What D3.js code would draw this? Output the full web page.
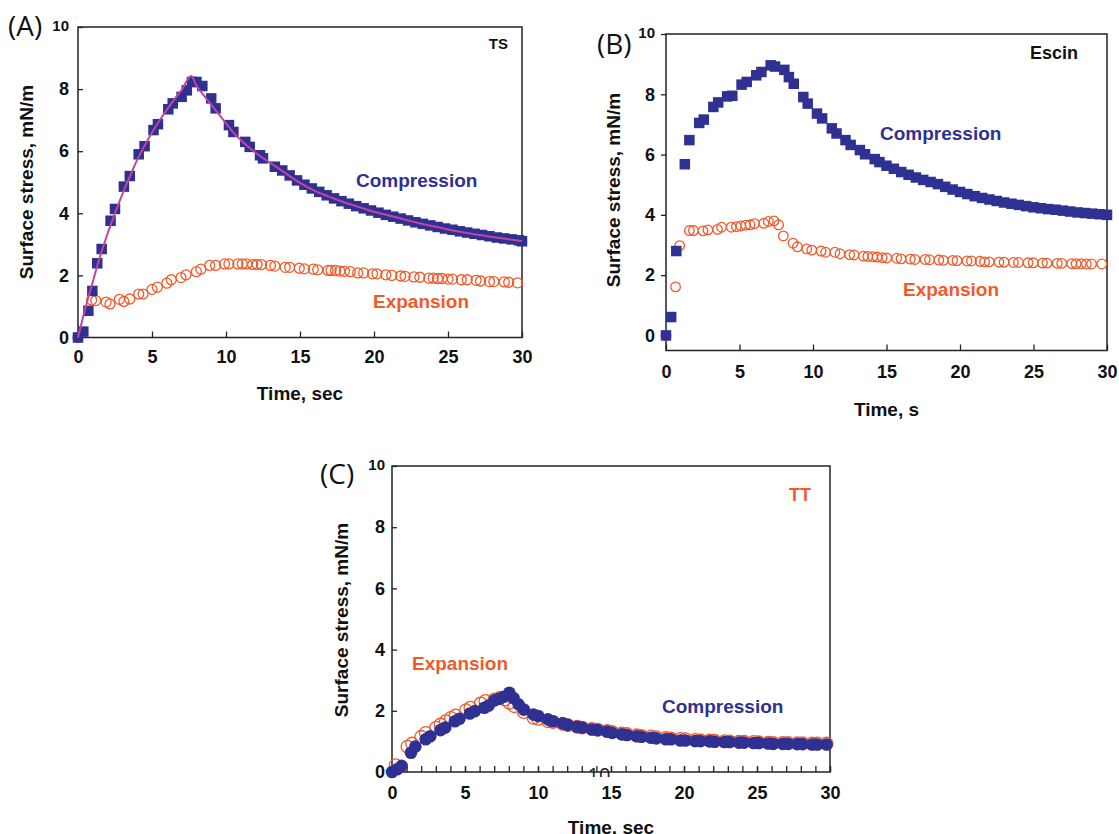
<!DOCTYPE html>
<html>
<head>
<meta charset="utf-8">
<script src="https://cdn.jsdelivr.net/npm/d3@7/dist/d3.min.js"></script>
<style>
  body { margin: 0; background: #fff; }
  svg { display: block; font-family: "Liberation Sans", Arial, sans-serif; }
  .axis text { font-weight: bold; font-size: 18px; fill: #111; }
  .axis line { stroke: #222; stroke-width: 1.3; }
  .axis path { display: none; }
  .title { font-weight: bold; font-size: 19px; fill: #111; }
  .note { font-weight: bold; font-size: 19px; }
  .tag { font-family: "Open Sans", sans-serif; font-size: 28px; fill: #111; }
</style>
</head>
<body>
<div id="chart"></div>
<script>
var xTicks = [0, 5, 10, 15, 20, 25, 30];
var yTicks = [0, 2, 4, 6, 8, 10];

// (A) TS  [time s, stress mN/m]
var tsCompression = [[0,0],[0.36,0.19],[0.7,0.86],[0.97,1.5],[1.3,2.39],[1.6,2.85],[2.2,3.76],[2.5,4.14],
  [3.1,4.86],[3.5,5.2],[4.1,5.9],[4.5,6.16],[5.1,6.68],[5.4,6.87],[6.1,7.35],[6.4,7.54],[7.0,7.75],[7.35,7.96],
  [7.7,8.23],[8.0,8.23],[8.4,8.1],[9.0,7.7],[9.3,7.38],[10.2,6.84],[10.5,6.62],[11.3,6.3],[11.6,6.14],[12.3,5.87],
  [12.5,5.77],[13.3,5.5],[13.8,5.38],[14.3,5.22],[14.8,5.06],[15.3,4.92],[15.8,4.8],[16.3,4.69],[16.8,4.58],
  [17.3,4.48],[17.8,4.39],[18.3,4.31],[18.8,4.23],[19.3,4.16],[19.8,4.09],[20.3,4.02],[20.8,3.95],[21.3,3.89],
  [21.8,3.83],[22.3,3.77],[22.8,3.71],[23.3,3.66],[23.8,3.61],[24.3,3.56],[24.8,3.51],[25.3,3.47],[25.8,3.42],
  [26.3,3.38],[26.8,3.34],[27.3,3.3],[27.8,3.26],[28.3,3.22],[28.8,3.19],[29.3,3.16],[29.8,3.13],[30,3.1]];
var tsExpansion = [[0,0],[0.92,1.21],[1.2,1.19],[1.9,1.14],[2.16,1.08],[2.8,1.23],[3.1,1.16],[3.5,1.24],[4.1,1.4],
  [4.4,1.4],[5.0,1.55],[5.36,1.62],[6.0,1.75],[6.3,1.86],[6.96,1.93],[7.3,2.02],[8.0,2.12],[8.3,2.2],[8.9,2.32],
  [9.3,2.32],[9.9,2.37],[10.2,2.37],[10.8,2.37],[11.1,2.37],[11.4,2.37],[11.8,2.35],[12.1,2.35],[12.4,2.35],
  [13.0,2.32],[13.3,2.3],[14.0,2.26],[14.3,2.26],[14.95,2.23],[15.3,2.21],[15.9,2.2],[16.2,2.18],[16.9,2.16],
  [17.1,2.16],[17.4,2.16],[17.7,2.14],[18.0,2.13],[18.4,2.12],[18.9,2.08],[19.3,2.08],[19.9,2.05],[20.2,2.05],
  [20.8,2.02],[21.2,2.0],[21.8,1.98],[22.1,1.97],[22.7,1.95],[23.1,1.94],[23.7,1.91],[24.0,1.91],[24.3,1.9],
  [24.6,1.9],[25.0,1.88],[25.3,1.88],[25.9,1.86],[26.3,1.86],[26.9,1.84],[27.2,1.82],[27.8,1.8],[28.1,1.8],
  [28.8,1.79],[29.1,1.78],[29.7,1.76]];
var tsFit = [[0,0],[0.5,0.95],[1,1.8],[1.5,2.62],[2,3.35],[2.5,4.0],[3,4.62],[3.5,5.18],[4,5.72],[4.5,6.18],
  [5,6.6],[5.5,6.98],[6,7.33],[6.5,7.66],[7,7.97],[7.65,8.42],[8,8.12],[8.5,7.8],[9,7.5],[9.5,7.2],[10,6.9],
  [10.5,6.6],[11,6.36],[11.5,6.14],[12,5.95],[13,5.62],[14,5.3],[15,4.98],[16,4.72],[17,4.53],[18,4.35],
  [19,4.2],[20,4.05],[21,3.93],[22,3.81],[23,3.69],[24,3.58],[25,3.48],[26,3.39],[27,3.31],[28,3.24],
  [29,3.17],[30,3.11]];

// (B) Escin
var escinCompression = [[0,0],[0.35,0.61],[0.7,2.8],[1.28,5.68],[1.59,6.48],[2.26,7.05],[2.57,7.16],[3.22,7.58],
  [3.55,7.73],[4.16,7.93],[4.51,7.95],[5.14,8.32],[5.49,8.41],[6.14,8.63],[6.49,8.74],[7.12,8.96],[7.42,8.92],
  [8.05,8.81],[8.36,8.57],[8.69,8.35],[9.34,7.91],[9.64,7.69],[10.27,7.36],[10.62,7.2],[11.28,6.87],[11.6,6.7],
  [12.21,6.48],[12.56,6.32],[13.19,6.15],[13.54,6.01],[14.2,5.85],[14.52,5.75],[15.0,5.63],[15.5,5.53],
  [16.0,5.42],[16.5,5.33],[17.0,5.24],[17.5,5.16],[18.0,5.09],[18.5,5.02],[19.0,4.93],[19.5,4.84],[20.0,4.76],
  [20.5,4.69],[21.0,4.62],[21.5,4.56],[22.0,4.51],[22.5,4.46],[23.0,4.41],[23.5,4.37],[24.0,4.33],[24.5,4.29],
  [25.0,4.25],[25.5,4.22],[26.0,4.19],[26.5,4.17],[27.0,4.14],[27.5,4.11],[28.0,4.08],[28.5,4.06],[29.0,4.04],
  [29.5,4.02],[30.0,4.0]];
var escinExpansion = [[0,0],[0.65,1.61],[0.93,2.98],[1.59,3.48],[1.87,3.48],[2.52,3.47],[2.85,3.5],[3.5,3.52],
  [3.78,3.59],[4.44,3.59],[4.79,3.61],[5.09,3.63],[5.42,3.66],[5.72,3.67],[6.02,3.71],[6.65,3.72],[6.96,3.78],
  [7.35,3.8],[7.66,3.67],[7.98,3.3],[8.64,3.06],[8.94,2.94],[9.57,2.87],[9.92,2.83],[10.55,2.8],[10.86,2.76],
  [11.49,2.76],[11.84,2.71],[12.49,2.68],[12.79,2.67],[13.43,2.63],[13.73,2.62],[14.06,2.61],[14.36,2.6],
  [14.71,2.58],[15.01,2.57],[15.69,2.56],[15.99,2.54],[16.62,2.53],[16.93,2.52],[17.63,2.52],[17.93,2.51],
  [18.56,2.5],[18.87,2.49],[19.5,2.49],[19.8,2.48],[20.48,2.47],[20.78,2.47],[21.36,2.46],[21.67,2.44],
  [21.99,2.44],[22.65,2.43],[23.0,2.43],[23.63,2.42],[23.98,2.42],[24.63,2.41],[24.98,2.41],[25.61,2.4],
  [25.92,2.4],[26.62,2.39],[26.92,2.39],[27.6,2.38],[27.9,2.38],[28.25,2.38],[28.6,2.37],[28.95,2.37],[29.65,2.37]];

// (C) TT
var ttCompression = [[0,0],[0.35,0.09],[0.66,0.2],[1.3,0.63],[1.6,0.83],[2.31,1.07],[2.62,1.17],[3.32,1.37],
  [3.65,1.45],[4.31,1.66],[4.62,1.74],[5.33,1.91],[5.68,1.99],[6.32,2.1],[6.62,2.17],[7.02,2.34],[7.33,2.39],
  [7.66,2.46],[8.04,2.59],[8.32,2.42],[8.67,2.21],[9.03,2.04],[9.69,1.88],[10.02,1.83],[10.68,1.72],[11.03,1.66],
  [11.69,1.59],[12.04,1.54],[12.68,1.48],[13.03,1.45],[13.69,1.39],[14.09,1.37],[14.73,1.32],[15.08,1.28],
  [15.74,1.23],[16.1,1.21],[16.76,1.17],[17.09,1.15],[17.75,1.12],[18.1,1.1],[18.76,1.07],[19.11,1.07],
  [19.75,1.03],[20.1,1.03],[20.76,1.01],[21.12,1.01],[21.75,1.0],[22.1,0.99],[22.77,0.98],[23.12,0.98],
  [23.76,0.96],[24.11,0.96],[24.77,0.95],[25.12,0.95],[25.76,0.93],[26.11,0.92],[26.77,0.92],[27.13,0.92],
  [27.76,0.91],[28.12,0.91],[28.78,0.9],[29.13,0.9],[29.77,0.9]];
var ttExpansion = [[0.25,0.22],[1.06,0.83],[1.37,0.93],[2.0,1.15],[2.31,1.28],[3.02,1.45],[3.32,1.55],[3.68,1.66],
  [4.03,1.77],[4.36,1.85],[5.07,2.02],[5.37,2.1],[6.08,2.24],[6.39,2.32],[7.02,2.37],[7.38,2.42],[7.73,2.37],
  [8.04,2.26],[8.37,2.15],[9.03,1.96],[9.69,1.77],[10.02,1.74],[10.68,1.66],[11.03,1.63],[11.69,1.57],
  [12.04,1.53],[12.68,1.48],[13.03,1.45],[13.69,1.41],[14.09,1.38],[14.73,1.34],[15.08,1.31],[15.74,1.26],
  [16.1,1.24],[16.76,1.2],[17.09,1.18],[17.75,1.16],[18.1,1.14],[18.76,1.11],[19.11,1.1],[19.75,1.08],
  [20.1,1.07],[20.76,1.05],[21.12,1.04],[21.75,1.03],[22.1,1.02],[22.77,1.01],[23.12,1.0],[23.76,0.99],
  [24.11,0.99],[24.77,0.98],[25.12,0.97],[25.76,0.96],[26.11,0.95],[26.77,0.95],[27.13,0.95],[27.76,0.94],
  [28.12,0.94],[28.78,0.93],[29.13,0.93],[29.77,0.93]];

(function() {
  var navy = "#2e3192", orange = "#f15a29", magenta = "#c2459b";

  var svg = d3.select("#chart")
    .append("svg")
    .attr("width", 1119)
    .attr("height", 834);

  svg.append("rect").attr("width", 1119).attr("height", 834).attr("fill", "#fff");

  function drawPanel(p) {
    var x = d3.scaleLinear().domain([0, 30]).range([p.left, p.right]);
    var y = d3.scaleLinear().domain([p.yMin, 10]).range([p.bottom, p.top]);
    var g = svg.append("g");

    var yAxis = d3.axisLeft(y).tickValues(yTicks).tickSize(p.yTick).tickPadding(p.yPad);
    var ya = g.append("g")
      .attr("class", "axis")
      .attr("transform", "translate(" + p.left + ",0)")
      .call(yAxis);
    ya.selectAll("text").filter(function(d) { return d === 10; })
      .style("font-size", "15px")
      .attr("dy", "0.2em");

    if (p.minor) {
      g.append("g")
        .attr("class", "axis")
        .attr("transform", "translate(0," + p.bottom + ")")
        .call(d3.axisBottom(x).tickValues(d3.range(0, 31)).tickSize(-6).tickFormat(""));
    }
    var xAxis = d3.axisBottom(x).tickValues(xTicks).tickSize(-6).tickPadding(p.xPad);
    g.append("g")
      .attr("class", "axis")
      .attr("transform", "translate(0," + p.bottom + ")")
      .call(xAxis);

    g.append("rect")
      .attr("x", p.left)
      .attr("y", p.top)
      .attr("width", p.right - p.left)
      .attr("height", p.bottom - p.top)
      .attr("fill", "none")
      .attr("stroke", "#222")
      .attr("stroke-width", 1.5);

    g.append("text")
      .attr("class", "title")
      .attr("transform", "translate(" + p.yTitleX + "," + p.yTitleY + ") rotate(-90)")
      .attr("text-anchor", "middle")
      .text("Surface stress, mN/m");

    g.append("text")
      .attr("class", "title")
      .attr("x", (p.left + p.right) / 2)
      .attr("y", p.xTitleY)
      .attr("text-anchor", "middle")
      .text(p.xTitle);

    g.append("text")
      .attr("class", "tag")
      .attr("x", p.tagX)
      .attr("y", p.tagY)
      .text(p.tag);

    return { x: x, y: y, g: g };
  }

  function squares(pn, data, size) {
    pn.g.selectAll(null)
      .data(data)
      .enter().append("rect")
      .attr("x", function(d) { return pn.x(d[0]) - size / 2; })
      .attr("y", function(d) { return pn.y(d[1]) - size / 2; })
      .attr("width", size)
      .attr("height", size)
      .attr("fill", navy);
  }

  function rings(pn, data, r) {
    pn.g.selectAll(null)
      .data(data)
      .enter().append("circle")
      .attr("cx", function(d) { return pn.x(d[0]); })
      .attr("cy", function(d) { return pn.y(d[1]); })
      .attr("r", r)
      .attr("fill", "none")
      .attr("stroke", orange)
      .attr("stroke-width", 1.3);
  }

  function note(pn, txt, xx, yy, color, anchor, size) {
    pn.g.append("text")
      .attr("class", "note")
      .attr("x", xx)
      .attr("y", yy)
      .attr("fill", color)
      .attr("text-anchor", anchor || "start")
      .style("font-size", (size || 19) + "px")
      .text(txt);
  }

  // (A) TS
  var a = drawPanel({ left: 78, right: 522, top: 27, bottom: 337.5, yMin: 0,
    yTick: -5, yPad: 9, xPad: 13, minor: false,
    yTitleX: 33, yTitleY: 182, xTitle: "Time, sec", xTitleY: 400,
    tag: "(A)", tagX: 8, tagY: 36 });
  rings(a, tsExpansion, 5);
  squares(a, tsCompression, 10.5);
  a.g.append("path")
    .datum(tsFit)
    .attr("fill", "none")
    .attr("stroke", magenta)
    .attr("stroke-width", 2)
    .attr("d", d3.line()
      .x(function(d) { return a.x(d[0]); })
      .y(function(d) { return a.y(d[1]); })
      .curve(d3.curveMonotoneX));
  note(a, "TS", 508, 49, "#111", "end", 15);
  note(a, "Compression", 356, 187, navy);
  note(a, "Expansion", 373, 308, orange);

  // (B) Escin
  var b = drawPanel({ left: 666, right: 1107, top: 34, bottom: 350.5, yMin: -0.5,
    yTick: 5, yPad: 6, xPad: 15, minor: false,
    yTitleX: 620, yTitleY: 190, xTitle: "Time, s", xTitleY: 416,
    tag: "(B)", tagX: 597, tagY: 54 });
  rings(b, escinExpansion, 4.8);
  squares(b, escinCompression, 10.5);
  note(b, "Escin", 1078, 59, "#111", "end", 18);
  note(b, "Compression", 880, 140, navy);
  note(b, "Expansion", 903, 296, orange);

  // (C) TT
  var c = drawPanel({ left: 392, right: 830, top: 466, bottom: 772, yMin: 0,
    yTick: -5, yPad: 7, xPad: 14, minor: true,
    yTitleX: 348, yTitleY: 620, xTitle: "Time, sec", xTitleY: 834,
    tag: "(C)", tagX: 320, tagY: 484 });
  rings(c, ttExpansion, 6.3);
  c.g.selectAll(null)
    .data(ttCompression)
    .enter().append("circle")
    .attr("cx", function(d) { return c.x(d[0]); })
    .attr("cy", function(d) { return c.y(d[1]); })
    .attr("r", 6.3)
    .attr("fill", navy);
  note(c, "TT", 811, 501, orange, "end", 18);
  note(c, "Expansion", 412, 670, orange);
  note(c, "Compression", 662, 713, navy);

  // stray, half-hidden label under the (C) axis
  svg.append("clipPath").attr("id", "strayClip")
    .append("rect").attr("x", 580).attr("y", 766).attr("width", 40).attr("height", 11);
  svg.append("text")
    .attr("x", 599)
    .attr("y", 782)
    .attr("text-anchor", "middle")
    .attr("clip-path", "url(#strayClip)")
    .style("font-family", "'Open Sans', sans-serif")
    .style("font-size", "20px")
    .attr("fill", "#222")
    .text("10");
})();
</script>
</body>
</html>
